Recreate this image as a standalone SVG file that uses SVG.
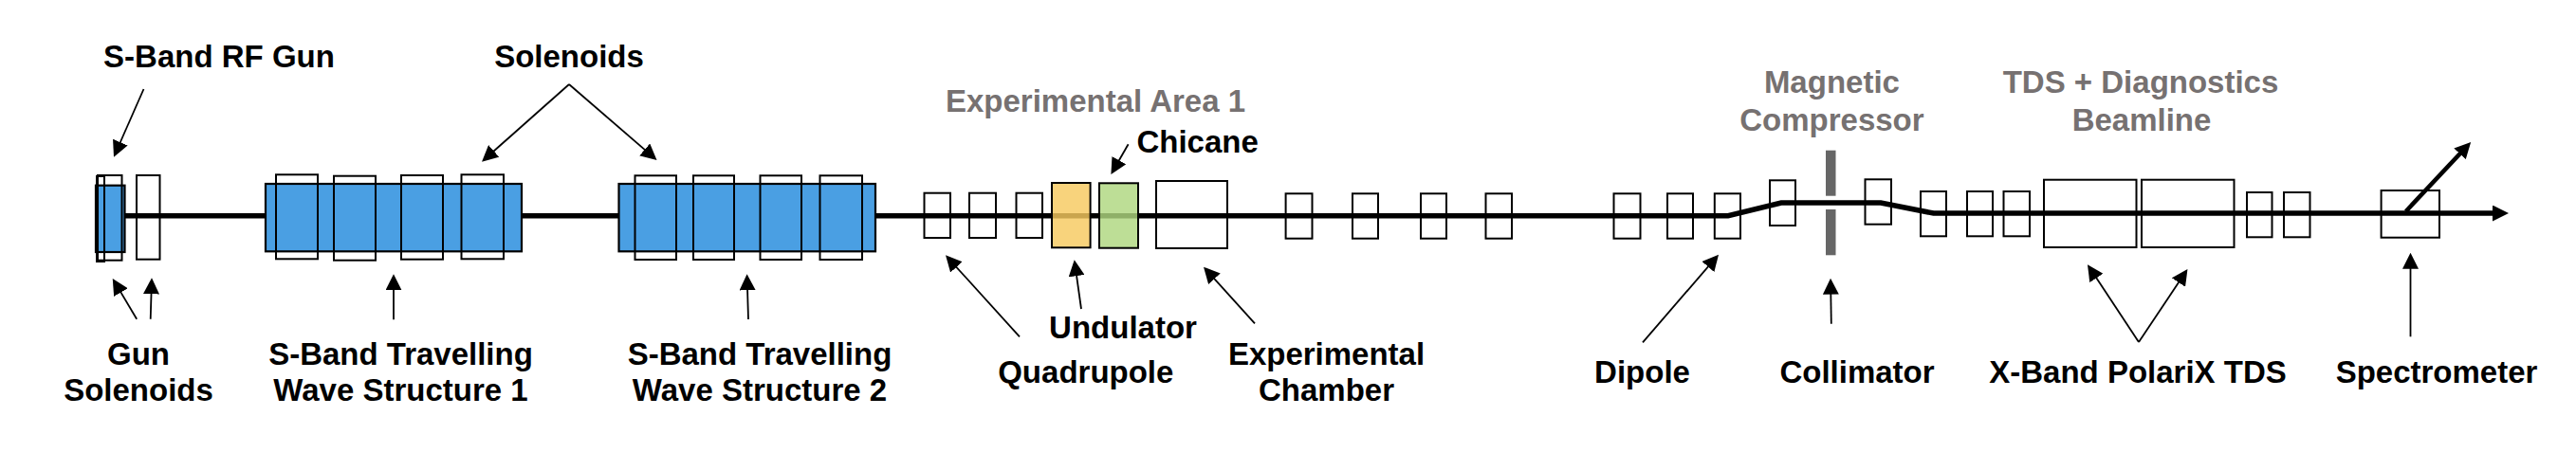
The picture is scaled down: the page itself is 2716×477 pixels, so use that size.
<svg xmlns="http://www.w3.org/2000/svg" width="2716" height="477" viewBox="0 0 2716 477">
<style>
text{font-family:"Liberation Sans",Arial,sans-serif;font-weight:700;font-size:33px;fill:#000;text-anchor:middle}
text.area{fill:#767171}
rect{fill:none;stroke:#000;stroke-width:2}
rect.rf{fill:#4a9fe3;stroke-width:2.2}
rect.und{fill:#f6c95f;fill-opacity:.82}
rect.chi{fill:#aed77f;fill-opacity:.82}
rect.col{fill:#666;stroke:none}
.ann{fill:none;stroke:#000;stroke-width:1.8;marker-end:url(#head)}
.beam{fill:none;stroke:#000;stroke-width:5.5}
</style>
<defs>
<marker id="head" viewBox="0 0 17 17" markerUnits="userSpaceOnUse" markerWidth="17" markerHeight="17" refX="13" refY="8.5" orient="auto"><path d="M0 0L17 8.5L0 17Z" fill="#000"/></marker>
<marker id="head-beam" viewBox="0 0 17 17" markerUnits="userSpaceOnUse" markerWidth="17" markerHeight="17" refX="8" refY="8.5" orient="auto"><path d="M0 0L17 8.5L0 17Z" fill="#000"/></marker>
</defs>
<g id="connectors">
<path class="beam" d="M131 227.7H1822L1878 214H1983L2038.6 225H2636" marker-end="url(#head-beam)"/>
<path class="beam" d="M2536.7 223L2599 156.5" style="stroke-width:4.6" marker-end="url(#head-beam)"/>
<path class="ann" d="M151.5 94L121.6 162"/>
<path class="ann" d="M600 89L511 168"/>
<path class="ann" d="M600 89L689.5 166.4"/>
<path class="ann" d="M144.2 336.7L120.8 297.4"/>
<path class="ann" d="M158.7 336.7L159.9 297.3"/>
<path class="ann" d="M415 337.3V293.3"/>
<path class="ann" d="M789 337L787.7 293.3"/>
<path class="ann" d="M1075 355.3L999.7 272.3"/>
<path class="ann" d="M1140 326L1133.3 278.3"/>
<path class="ann" d="M1189.6 152.3L1173.4 180.5"/>
<path class="ann" d="M1323 341.3L1271.7 284.7"/>
<path class="ann" d="M1732 361.3L1809.4 271.7"/>
<path class="ann" d="M1930.8 341.7L1930.1 297.7"/>
<path class="ann" d="M2255 361L2203.2 282.6"/>
<path class="ann" d="M2255 361L2304.2 287.3"/>
<path class="ann" d="M2541.5 355.3V270.7"/>
</g>
<g id="rf-gun"><rect class="rf" x="101" y="195.7" width="30.5" height="70.3"/></g>
<g id="gun-solenoids">
<rect x="103" y="185" width="25.5" height="89.7"/>
<rect x="102" y="186" width="8" height="90"/>
<rect x="144" y="185" width="24.5" height="88.7"/>
</g>
<g id="ts1">
<rect class="rf" x="280" y="194" width="270" height="71.3"/>
<rect x="291" y="184.3" width="44" height="89"/>
<rect x="352" y="185.7" width="44" height="89"/>
<rect x="423" y="185" width="44" height="88.7"/>
<rect x="486.5" y="184.3" width="44.5" height="89"/>
</g>
<g id="ts2">
<rect class="rf" x="652.5" y="194" width="270.5" height="71.3"/>
<rect x="669.5" y="185.3" width="43.5" height="88.7"/>
<rect x="731" y="185.3" width="43" height="88.7"/>
<rect x="801.5" y="185.3" width="43.5" height="88.7"/>
<rect x="864.5" y="185.3" width="44.5" height="88.7"/>
</g>
<g id="quads-1">
<rect x="974.5" y="203.7" width="27.5" height="47.3"/>
<rect x="1022" y="203.7" width="28" height="47.3"/>
<rect x="1071.5" y="203.7" width="27.5" height="47.3"/>
</g>
<g id="undulator"><rect class="und" x="1109" y="193" width="40.6" height="68.3"/></g>
<g id="chicane"><rect class="chi" x="1159" y="193.3" width="41" height="68.4"/></g>
<g id="chamber"><rect x="1219" y="191" width="75" height="71"/></g>
<g id="quads-2">
<rect x="1355.6" y="204.3" width="27.9" height="47.4"/>
<rect x="1426" y="204.3" width="27" height="47.4"/>
<rect x="1498" y="204.3" width="27" height="47.4"/>
<rect x="1566.5" y="204.3" width="27.5" height="47.4"/>
<rect x="1701.5" y="204.3" width="28" height="47.4"/>
<rect x="1758" y="204.3" width="27" height="47.4"/>
<rect x="1807.8" y="204.3" width="27.2" height="47.4"/>
</g>
<g id="compressor">
<rect x="1866" y="190.3" width="27" height="47.7"/>
<rect x="1966.5" y="189.3" width="27.5" height="47.4"/>
<rect class="col" x="1925" y="158.7" width="10.5" height="48"/>
<rect class="col" x="1925" y="221" width="10.5" height="48.3"/>
</g>
<g id="quads-3">
<rect x="2025" y="202" width="27" height="47.3"/>
<rect x="2074" y="202" width="27" height="47.3"/>
<rect x="2112.5" y="202" width="27.5" height="47.3"/>
</g>
<g id="polarix">
<rect x="2155" y="189.7" width="97.5" height="71.3"/>
<rect x="2258" y="189.7" width="97.5" height="71.3"/>
</g>
<g id="quads-4">
<rect x="2369" y="203" width="26.5" height="47.3"/>
<rect x="2408" y="203" width="27.5" height="47.3"/>
</g>
<g id="spectrometer"><rect x="2510.6" y="201" width="61.4" height="49.7"/></g>
<g id="labels">
<text x="231" y="70.7">S-Band RF Gun</text>
<text x="600" y="70.7">Solenoids</text>
<text x="146" y="385">Gun</text>
<text x="146" y="423.3">Solenoids</text>
<text x="422.5" y="385">S-Band Travelling</text>
<text x="422.5" y="423.3">Wave Structure 1</text>
<text x="801" y="385">S-Band Travelling</text>
<text x="801" y="423.3">Wave Structure 2</text>
<text class="area" x="1155" y="118.3">Experimental Area 1</text>
<text x="1262.6" y="160.7">Chicane</text>
<text x="1184" y="357.3">Undulator</text>
<text x="1144.8" y="404">Quadrupole</text>
<text x="1398.5" y="385">Experimental</text>
<text x="1398.5" y="423.3">Chamber</text>
<text x="1731.5" y="404">Dipole</text>
<text class="area" x="1931.4" y="98.3">Magnetic</text>
<text class="area" x="1931.4" y="138.3">Compressor</text>
<text class="area" x="2257" y="98.3">TDS + Diagnostics</text>
<text class="area" x="2258" y="138.3">Beamline</text>
<text x="1958" y="404">Collimator</text>
<text x="2254" y="404">X-Band PolariX TDS</text>
<text x="2569" y="404">Spectrometer</text>
</g>
</svg>
